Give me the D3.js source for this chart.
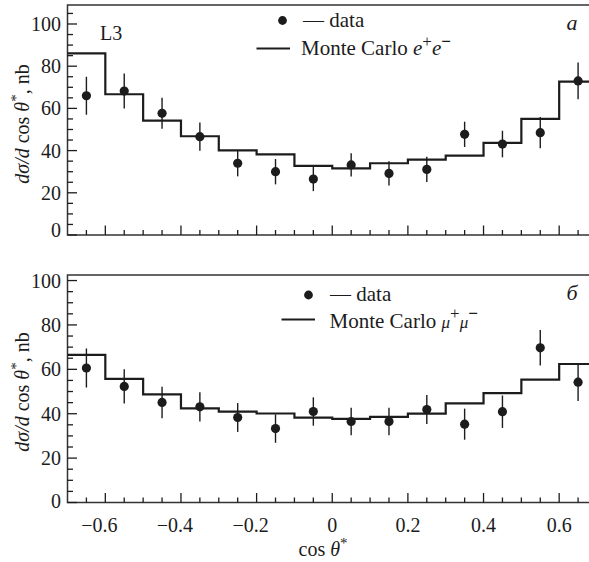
<!DOCTYPE html>
<html>
<head>
<meta charset="utf-8">
<script src="https://cdn.jsdelivr.net/npm/d3@7"></script>
<style>
  body { margin: 0; background: #fff; }
  svg { display: block; }
</style>
</head>
<body>
<svg id="chart" width="589" height="562" font-family="'Liberation Serif', 'DejaVu Serif', 'Times New Roman', serif"></svg>
<script>
// ---------- data ----------
const binCenters = [-0.65, -0.55, -0.45, -0.35, -0.25, -0.15, -0.05, 0.05, 0.15, 0.25, 0.35, 0.45, 0.55, 0.65];
const binWidth = 0.1;

// panel a: e+e-
const eeData  = [66.0, 68.2, 57.7, 46.6, 34.0, 30.0, 26.5, 33.2, 29.2, 31.1, 47.7, 43.1, 48.5, 73.0];
const eeErr   = [9.0, 8.3, 7.3, 6.7, 6.2, 6.0, 5.7, 5.5, 5.7, 6.0, 6.0, 6.3, 7.4, 8.7];
const eeMC    = [86.1, 66.7, 54.2, 46.8, 40.1, 38.2, 32.8, 31.6, 34.0, 35.7, 37.6, 43.7, 55.0, 72.7];

// panel б: mu+mu-
const mmData  = [60.6, 52.3, 45.1, 43.1, 38.3, 33.3, 41.0, 36.5, 36.5, 41.9, 35.3, 40.9, 69.7, 54.2];
const mmErr   = [8.8, 7.7, 7.1, 6.6, 6.5, 6.4, 6.4, 6.2, 6.2, 6.5, 7.0, 7.3, 8.0, 8.5];
const mmMC    = [66.5, 55.7, 48.7, 42.4, 40.9, 40.1, 38.2, 37.7, 38.6, 40.0, 44.7, 49.3, 55.4, 62.4];

const xTickLabels = [-0.6, -0.4, -0.2, 0, 0.2, 0.4, 0.6];
const yTickLabels = [0, 20, 40, 60, 80, 100];

// ---------- drawing ----------
const svg = d3.select("#chart");
const ink = "#1c1c1c";
const x = d3.scaleLinear().domain([-0.7, 0.7]).range([67.5, 597]);

function fmt(v) {
  if (v === 0) return "0";
  return (v < 0 ? "\u2212" : "") + Math.abs(v).toFixed(1);
}

function panel(cfg) {
  const y = d3.scaleLinear().domain([0, cfg.yMax]).range([cfg.bottom, cfg.top]);
  const g = svg.append("g").attr("fill", ink);

  g.append("rect")
    .attr("x", x(-0.7)).attr("y", cfg.top)
    .attr("width", x(0.7) - x(-0.7)).attr("height", cfg.bottom - cfg.top)
    .attr("fill", "none").attr("stroke", "#333").attr("stroke-width", 1.5);

  const xMinor = d3.range(-0.65, 0.70, 0.05).map(v => Math.round(v * 100) / 100);
  g.selectAll(".xt").data(xMinor).join("line")
    .attr("x1", d => x(d)).attr("x2", d => x(d))
    .attr("y1", cfg.bottom)
    .attr("y2", d => cfg.bottom - (Math.abs(Math.round(d * 100) % 20) === 0 ? 9.5 : 5))
    .attr("stroke", ink).attr("stroke-width", 1.3);

  const yMinor = d3.range(0, cfg.yMax, 5);
  g.selectAll(".yt").data(yMinor).join("line")
    .attr("y1", d => y(d)).attr("y2", d => y(d))
    .attr("x1", x(-0.7))
    .attr("x2", d => x(-0.7) + (d % 20 === 0 ? 9.5 : 5.5))
    .attr("stroke", ink).attr("stroke-width", 1.3);

  g.selectAll(".yl").data(yTickLabels).join("text")
    .attr("x", 61)
    .attr("y", d => y(d) + (d === 0 ? cfg.zeroShift : 0))
    .attr("dy", "0.35em")
    .attr("text-anchor", "end")
    .attr("font-size", 20)
    .text(d => d);

  const yl = g.append("text")
    .attr("transform", `translate(${cfg.ylabX},${cfg.ylabY}) rotate(-90)`)
    .attr("text-anchor", "middle")
    .attr("font-size", 20);
  yl.append("tspan").attr("font-style", "italic").text("d\u03C3/d");
  yl.append("tspan").text(" cos ");
  yl.append("tspan").attr("font-style", "italic").text("\u03B8");
  yl.append("tspan").attr("font-size", 15).attr("dy", -8).text("*");
  yl.append("tspan").attr("dy", 8).text(", nb");

  const pts = cfg.mc.map((v, i) => [binCenters[i] - binWidth / 2, v]);
  pts.push([binCenters[binCenters.length - 1] + binWidth / 2, cfg.mc[cfg.mc.length - 1]]);
  const line = d3.line().x(d => x(d[0])).y(d => y(d[1])).curve(d3.curveStepAfter);
  g.append("path").attr("d", line(pts))
    .attr("fill", "none").attr("stroke", ink).attr("stroke-width", 2.2);

  g.selectAll(".eb").data(cfg.data).join("line")
    .attr("x1", (d, i) => x(binCenters[i])).attr("x2", (d, i) => x(binCenters[i]))
    .attr("y1", (d, i) => y(d - cfg.err[i])).attr("y2", (d, i) => y(d + cfg.err[i]))
    .attr("stroke", ink).attr("stroke-width", 1.4);

  g.selectAll(".pt").data(cfg.data).join("circle")
    .attr("cx", (d, i) => x(binCenters[i])).attr("cy", d => y(d))
    .attr("r", 4.6).attr("fill", ink);

  const L = cfg.legend;
  g.append("circle").attr("cx", L.dotX).attr("cy", L.dotY).attr("r", 4.4).attr("fill", ink);
  g.append("text").attr("x", L.dataX).attr("y", L.dataY).attr("font-size", 21).text("\u2014 data");
  g.append("line").attr("x1", L.lineX1).attr("x2", L.lineX2).attr("y1", L.lineY).attr("y2", L.lineY)
    .attr("stroke", ink).attr("stroke-width", 2);
  const mt = g.append("text").attr("x", L.mcX).attr("y", L.mcY).attr("font-size", 21);
  mt.append("tspan").text("Monte Carlo ");
  cfg.particle(mt);

  g.append("text").attr("x", cfg.letterX).attr("y", cfg.letterY)
    .attr("text-anchor", "middle").attr("font-size", 22).attr("font-style", "italic")
    .text(cfg.letter);

  return { g, y };
}

const panelA = panel({
  top: 5, bottom: 235, yMax: 109, zeroShift: -5,
  ylabX: 29, ylabY: 124,
  data: eeData, err: eeErr, mc: eeMC,
  legend: { dotX: 282.5, dotY: 20.5, dataX: 303, dataY: 26.5, lineX1: 256.5, lineX2: 290, lineY: 48.5, mcX: 301, mcY: 55 },
  particle: t => {
    t.append("tspan").attr("font-style", "italic").text("e");
    t.append("tspan").attr("font-size", 17).attr("dy", -8).text("+");
    t.append("tspan").attr("font-style", "italic").attr("dy", 8).text("e");
    t.append("tspan").attr("font-size", 17).attr("dy", -8).attr("font-weight", "bold").text("\u2212");
  },
  letter: "\u0430", letterX: 572, letterY: 30
});
panelA.g.append("text").attr("x", 100).attr("y", 39.5).attr("font-size", 20).text("L3");

const panelB = panel({
  top: 275, bottom: 502.5, yMax: 102.5, zeroShift: -2,
  ylabX: 29, ylabY: 392,
  data: mmData, err: mmErr, mc: mmMC,
  legend: { dotX: 308.5, dotY: 295, dataX: 330, dataY: 301, lineX1: 281.5, lineX2: 315, lineY: 319.5, mcX: 329.5, mcY: 327.5 },
  particle: t => {
    t.append("tspan").attr("font-style", "italic").attr("font-size", 17).text("\u03BC");
    t.append("tspan").attr("font-size", 17).attr("dy", -9).text("+");
    t.append("tspan").attr("font-style", "italic").attr("font-size", 17).attr("dy", 9).text("\u03BC");
    t.append("tspan").attr("font-size", 17).attr("dy", -9).attr("font-weight", "bold").text("\u2212");
  },
  letter: "\u0431", letterX: 572, letterY: 300
});

const axisG = svg.append("g").attr("fill", ink);
axisG.selectAll(".xl").data(xTickLabels).join("text")
  .attr("x", d => x(d) + (d < 0 ? -6 : 0))
  .attr("y", 532)
  .attr("text-anchor", "middle")
  .attr("font-size", 20)
  .text(d => fmt(d));

const xl = axisG.append("text").attr("x", 323).attr("y", 556).attr("text-anchor", "middle").attr("font-size", 20);
xl.append("tspan").text("cos ");
xl.append("tspan").attr("font-style", "italic").text("\u03B8");
xl.append("tspan").attr("font-size", 15).attr("dy", -8).text("*");
</script>
</body>
</html>
